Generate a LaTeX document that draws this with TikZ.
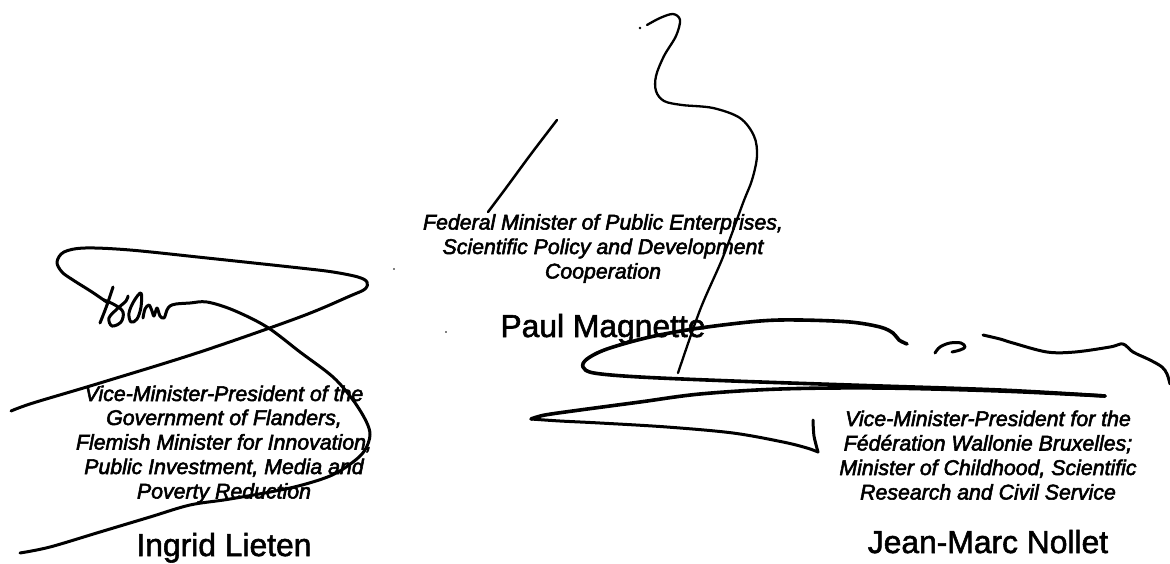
\documentclass[tikz,border=0pt]{standalone}
\usepackage{fontspec}
\setmainfont{Liberation Sans}
\newcommand\heavytext[1]{\special{pdf:literal direct 2 Tr 0.55 w}#1\special{pdf:literal direct 0 Tr}}
\newcommand\rolefont{\fontsize{21.3}{24.5}\selectfont\itshape}
\newcommand\namefont{\fontsize{31.8}{36}\selectfont}
\begin{document}
\begin{tikzpicture}[x=1pt,y=-1pt,
  sig/.style={line width=3pt, line cap=round, line join=round},
  heavysig/.style={line width=3.6pt, line cap=round, line join=round},
  thinsig/.style={line width=2.3pt, line cap=round, line join=round},
  role/.style={font=\rolefont, inner sep=0pt, anchor=base},
  signame/.style={font=\namefont, inner sep=0pt, anchor=base}]
\useasboundingbox (0,0) rectangle (1170,563);
\fill[white] (0,0) rectangle (1170,563);

% ---- texts: left column
\node[role] (l1) at (224,401) {\heavytext{Vice-Minister-President of the}};
\node[role] (l2) at (224,425) {\heavytext{Government of Flanders,}};
\node[role] (l3) at (224,449.5) {\heavytext{Flemish Minister for Innovation,}};
\node[role] (l4) at (224,474) {\heavytext{Public Investment, Media and}};
\node[role] (l5) at (224,498.5) {\heavytext{Poverty Reduction}};
\node[signame] (lname) at (224,556) {\heavytext{Ingrid Lieten}};

% ---- texts: middle column
\node[role] (m1) at (603,229.5) {\heavytext{Federal Minister of Public Enterprises,}};
\node[role] (m2) at (603,254) {\heavytext{Scientific Policy and Development}};
\node[role] (m3) at (603,278.5) {\heavytext{Cooperation}};
\node[signame] (mname) at (603,337) {\heavytext{Paul Magnette}};

% ---- texts: right column
\node[role] (r1) at (988,426) {\heavytext{Vice-Minister-President for the}};
\node[role] (r2) at (988,450.5) {\heavytext{Fédération Wallonie Bruxelles;}};
\node[role] (r3) at (988,475) {\heavytext{Minister of Childhood, Scientific}};
\node[role] (r4) at (988,499.5) {\heavytext{Research and Civil Service}};
\node[signame] (rname) at (988,553) {\heavytext{Jean-Marc Nollet}};

% ---- left signature
\draw[sig] plot[smooth, tension=0.55] coordinates {(11,411) (33,403) (100,383) (200,352) (300,317) (350,296) (365,289) (367,282) (358,277) (333,272) (300,268) (207,258) (130,250) (85,248) (64,252) (57,262) (62,272) (73,280) (92,292) (108,303)};
\draw[sig] plot[smooth, tension=0.6] coordinates {(113,287) (107,305) (100,323)};
\draw[sig] plot[smooth, tension=0.6] coordinates {(104,300) (115,305) (123,312) (121,322) (112,326) (109,318) (117,309) (126,301) (128,296)};
\draw[sig] plot[smooth cycle, tension=0.6] coordinates {(141,293) (134,301) (129,313) (131,322) (137,319) (141,307)};
\draw[sig] plot[smooth, tension=0.55] coordinates {(143,318) (145,309) (149,305) (152,311) (154,316) (157,308) (160,316) (164,318) (167,310) (170,306) (176,304) (190,303) (207,302) (233,310) (267,327) (300,352) (333,377) (353,400) (366,421) (370,435) (365,450) (353,462) (330,476) (290,488) (230,499) (190,505) (150,517) (100,532) (50,547) (20,553)};
\fill (394,269) circle (0.9);
\fill (446,332) circle (0.9);

% ---- middle signature
\fill (640,28) circle (1.4);
\draw[thinsig] plot[smooth, tension=0.55] coordinates {(647,25) (660,18) (673,14) (680,20) (676,36) (664,56) (656,76) (656,91) (664,101) (682,105) (713,108) (740,118) (754,136) (757,156) (752,180) (743,203) (723,257) (700,310) (678,373)};
\draw[line width=2.5pt, line cap=round] plot[smooth, tension=0.5] coordinates {(557,120) (531,154) (506,188) (488,212)};

% ---- right signature
\draw[heavysig] plot[smooth, tension=0.55] coordinates {(907,344) (899,340) (893,333) (880,327) (850,322) (800,320) (760,321) (700,328) (650,337) (607,349) (587,359) (583,367) (594,373) (640,377) (733,381) (850,385) (1000,390) (1105,396)};
\draw[heavysig] plot[smooth, tension=0.55] coordinates {(1105,396) (1000,391) (880,388) (780,389) (700,394) (640,402) (580,410) (545,415) (531,419)};
\draw[sig] plot[smooth, tension=0.55] coordinates {(531,419) (560,421) (600,423) (667,427) (733,433) (783,442) (807,448) (818,452)};
\draw[sig] plot[smooth, tension=0.5] coordinates {(813,420) (814,436) (818,452)};
\draw[sig] plot[smooth, tension=0.6] coordinates {(935,353) (940,347) (950,343) (961,343) (965,347) (960,350) (952,352)};
\draw[sig] plot[smooth, tension=0.55] coordinates {(983,335) (1000,339) (1013,343) (1047,352) (1075,352) (1110,347) (1123,344) (1133,352) (1150,360) (1162,367) (1167,374) (1170,384)};
\end{tikzpicture}
\end{document}
